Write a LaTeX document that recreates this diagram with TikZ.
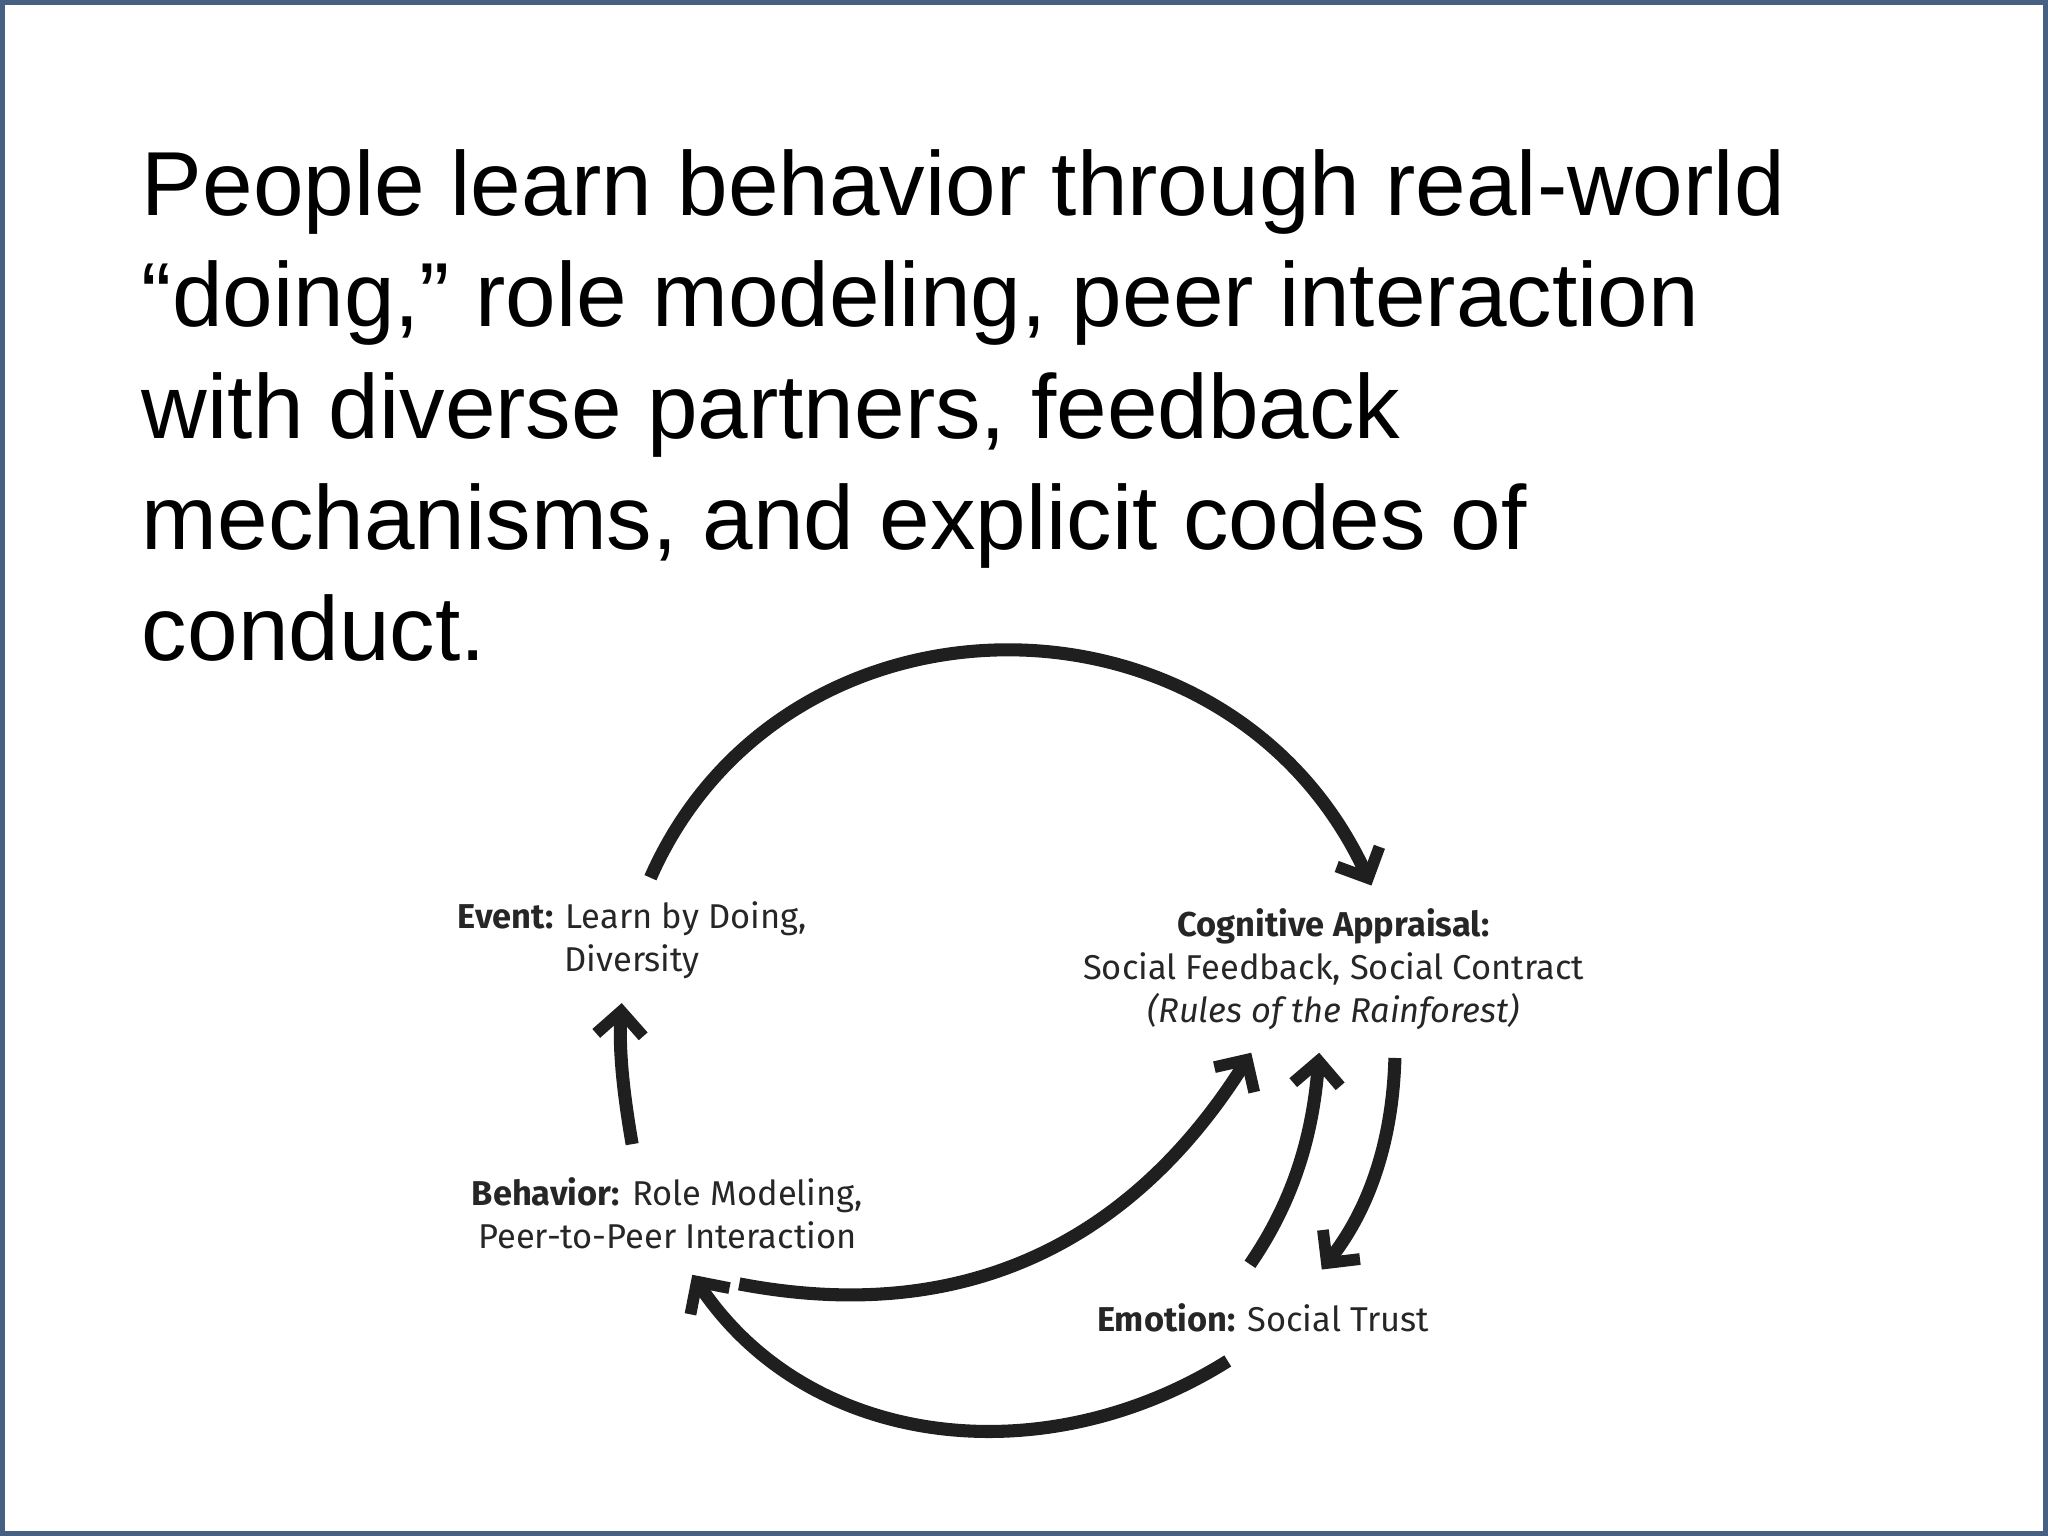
\documentclass[tikz,border=0pt]{standalone}
\usepackage{fontspec}
\setmainfont{Liberation Sans}
\newfontfamily\lab{Fira Sans}
\usetikzlibrary{arrows.meta}
\begin{document}
\begin{tikzpicture}[x=0.01cm,y=-0.01cm,
  lbl/.style={font=\lab\fontsize{7.5}{9.4}\selectfont,align=center,text=black!85},
  arr/.style={line width=1.0mm,draw=black!88,-{Straight Barb[length=1.8mm,width=3.6mm,line width=0.9mm]}}]
\useasboundingbox (0,0) rectangle (1568,1176);
\draw[line width=0.6mm,draw={rgb,255:red,70;green,95;blue,130}] (1,1) rectangle (1567,1175);
\node[anchor=north west,align=left,inner sep=0,font=\fontsize{19.8}{24.2}\selectfont] (title) at (108,114)
{People learn behavior through real-world\\
“doing,” role modeling, peer interaction\\
with diverse partners, feedback\\
mechanisms, and explicit codes of\\
conduct.};
\node[lbl] (ev) at (484,720) {\textbf{Event:} Learn by Doing,\\Diversity};
\node[lbl] (cog) at (1021,742) {\textbf{Cognitive Appraisal:}\\Social Feedback, Social Contract\\\textit{(Rules of the Rainforest)}};
\node[lbl] (beh) at (511,929) {\textbf{Behavior:} Role Modeling,\\Peer-to-Peer Interaction};
\node[lbl] (emo) at (967,1009) {\textbf{Emotion:} Social Trust};
\coordinate (a1) at (498,672); \coordinate (a2) at (1050,678);
\draw[arr] (a1) .. controls (600,440) and (940,440) .. (a2);
\coordinate (b1) at (484,876); \coordinate (b2) at (476,768);
\draw[arr] (b1) .. controls (476,830) and (474,800) .. (b2);
\coordinate (c1) at (566,983); \coordinate (c2) at (958,806);
\draw[arr] (c1) .. controls (760,1020) and (880,930) .. (c2);
\coordinate (d1) at (957,968); \coordinate (d2) at (1010,806);
\draw[arr] (d1) .. controls (990,920) and (1005,870) .. (d2);
\coordinate (e1) at (1068,810); \coordinate (e2) at (1012,972);
\draw[arr] (e1) .. controls (1066,880) and (1045,930) .. (e2);
\coordinate (f1) at (940,1042); \coordinate (f2) at (530,976);
\draw[arr] (f1) .. controls (800,1130) and (620,1110) .. (f2);
\end{tikzpicture}
\end{document}
